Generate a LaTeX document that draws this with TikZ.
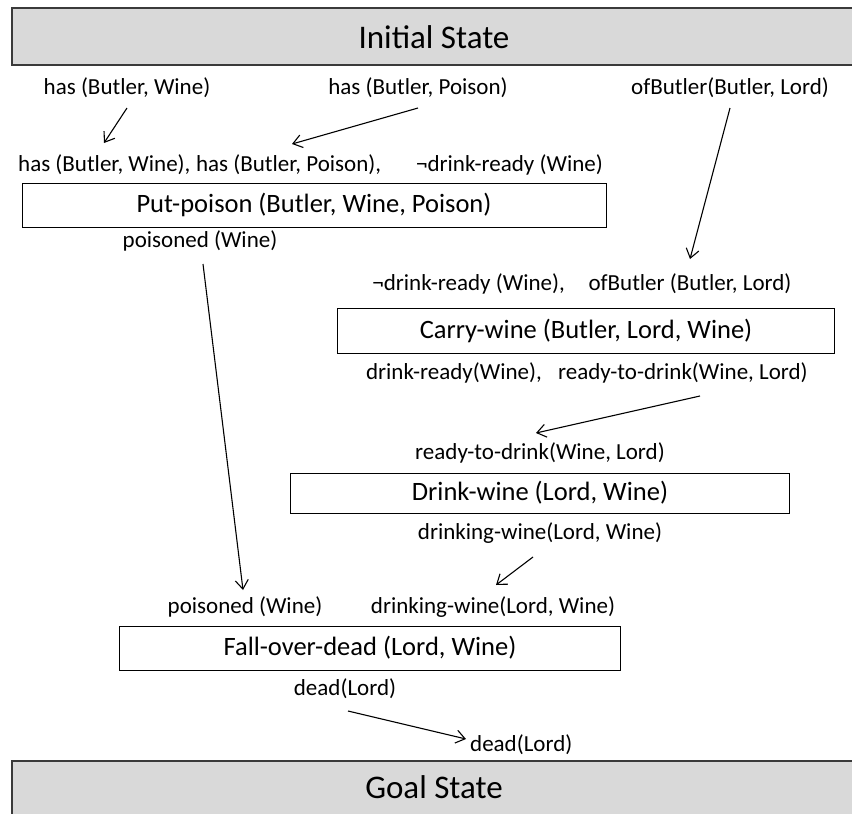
\documentclass[tikz,border=0pt]{standalone}
\usepackage{fontspec}
\setmainfont{Carlito}
\usetikzlibrary{arrows.meta}
\definecolor{stategray}{HTML}{D9D9D9}
\definecolor{edgegray}{HTML}{3A3A3A}
\tikzset{
  statebox/.style={draw=edgegray, line width=1.6pt, fill=stategray, inner sep=0pt},
  titletext/.style={inner sep=0pt, anchor=base, font=\fontsize{33}{38}\selectfont},
  actionbox/.style={draw=black, line width=1pt, inner sep=0pt,
    font=\fontsize{26.5}{30}\selectfont},
  cond/.style={inner sep=0pt, font=\fontsize{23}{26}\selectfont},
  link/.style={line width=1.1pt, -{Straight Barb[length=9pt,width=13pt,line width=1.1pt]}},
}
\begin{document}
\begin{tikzpicture}[x=1pt,y=-1pt]
\useasboundingbox (0,0) rectangle (852,814);

% initial and goal states
\node[statebox, minimum width=860pt, minimum height=57pt, anchor=north west] (init) at (11,7) {};
\node[titletext] (initT) at (434,48) {Initial State};
\node[statebox, minimum width=860pt, minimum height=70pt, anchor=north west] (goal) at (11,760) {};
\node[titletext] (goalT) at (434,798) {Goal State};

% initial facts
\node[cond] (i1) at (127,88) {has (Butler, Wine)};
\node[cond] (i2) at (418,88) {has (Butler, Poison)};
\node[cond] (i3) at (730,88) {ofButler(Butler, Lord)};

% Put-poison
\node[cond, anchor=west] (p1) at (18,165) {has (Butler, Wine),};
\node[cond, anchor=west] (p2) at (p1.east) {\ has (Butler, Poison),};
\node[cond, anchor=east] (p3) at (603,165) {¬drink-ready (Wine)};
\node[actionbox, minimum width=584pt, minimum height=44pt] (put) at (314,205) {Put-poison (Butler, Wine, Poison)};
\node[cond] (pe) at (200,241) {poisoned (Wine)};

% Carry-wine
\node[cond, anchor=east] (c1) at (565,284) {¬drink-ready (Wine),};
\node[cond] (c2) at (690,284) {ofButler (Butler, Lord)};
\node[actionbox, minimum width=497pt, minimum height=45pt] (carry) at (586,331) {Carry-wine (Butler, Lord, Wine)};
\node[cond, anchor=east] (ce1) at (542,373) {drink-ready(Wine),};
\node[cond, anchor=west] (ce2) at (558,373) {ready-to-drink(Wine, Lord)};

% Drink-wine
\node[cond] (d1) at (540,453) {ready-to-drink(Wine, Lord)};
\node[actionbox, minimum width=499pt, minimum height=40pt] (drink) at (540,493) {Drink-wine (Lord, Wine)};
\node[cond] (de) at (540,533) {drinking-wine(Lord, Wine)};

% Fall-over-dead
\node[cond] (f1) at (245,607) {poisoned (Wine)};
\node[cond] (f2) at (493,607) {drinking-wine(Lord, Wine)};
\node[actionbox, minimum width=501pt, minimum height=44pt] (fall) at (370,648) {Fall-over-dead (Lord, Wine)};
\node[cond] (fe) at (345,689) {dead(Lord)};

% goal fact
\node[cond, anchor=west] (g1) at (470,745) {dead(Lord)};

% connector end points
\coordinate (a1s) at (127,108);  \coordinate (a1e) at (104,143);
\coordinate (a2s) at (418,108);  \coordinate (a2e) at (292,144);
\coordinate (a3s) at (730,108);  \coordinate (a3e) at (690,259);
\coordinate (a4s) at (203,264);  \coordinate (a4e) at (243,590);
\coordinate (a5s) at (700,396);  \coordinate (a5e) at (536,433);
\coordinate (a6s) at (533,557);  \coordinate (a6e) at (496,585);
\coordinate (a7s) at (348,711);  \coordinate (a7e) at (466,739);

\draw[link] (a1s) -- (a1e);
\draw[link] (a2s) -- (a2e);
\draw[link] (a3s) -- (a3e);
\draw[link] (a4s) -- (a4e);
\draw[link] (a5s) -- (a5e);
\draw[link] (a6s) -- (a6e);
\draw[link] (a7s) -- (a7e);
\end{tikzpicture}
\end{document}
